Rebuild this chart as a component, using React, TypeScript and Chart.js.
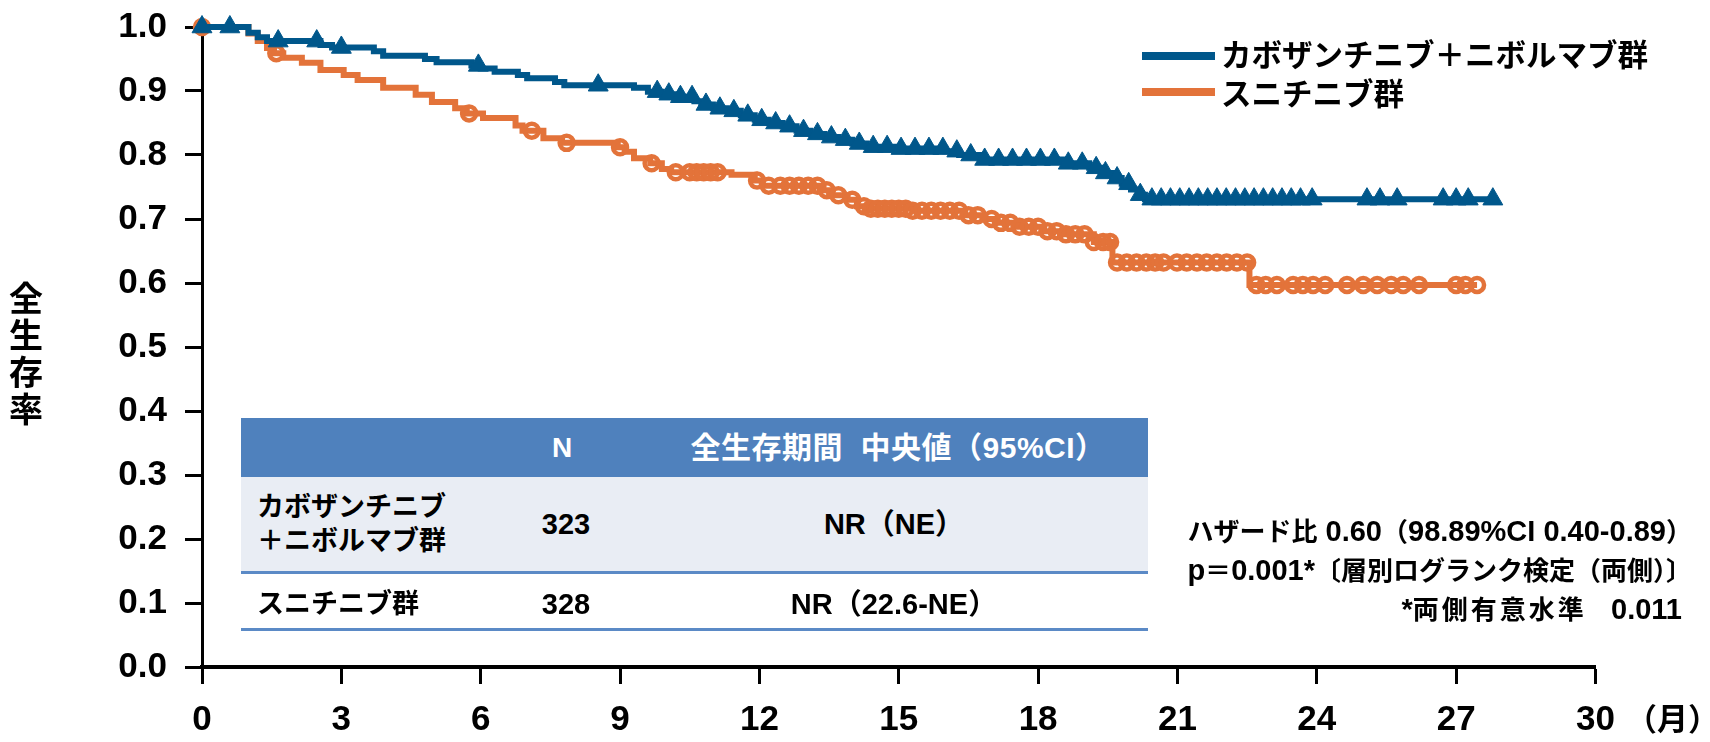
import React, { useEffect, useRef } from "react";
import { Chart, registerables } from "chart.js";

Chart.register(...registerables);

// ---- data ----
const xTickValues = [0, 3, 6, 9, 12, 15, 18, 21, 24, 27, 30];
const yTickValues = [0, 0.1, 0.2, 0.3, 0.4, 0.5, 0.6, 0.7, 0.8, 0.9, 1.0];

const seriesNames = ["カボザンチニブ＋ニボルマブ群", "スニチニブ群"];

// Cabozantinib + nivolumab: step times (months) and survival after each step
const comboTimes = [0, 1.0, 1.2, 1.4, 2.55, 2.8, 3.7, 3.9, 4.8, 5.05, 5.8, 6.0, 6.3, 6.8, 7.0, 7.6, 7.8, 9.3, 9.6, 9.9, 10.3, 10.6, 10.75, 11.0, 11.3, 11.6, 11.9, 12.2, 12.5, 12.8, 13.1, 13.4, 13.7, 14.0, 14.3, 15.0, 16.0, 16.3, 16.8, 18.6, 19.1, 19.35, 19.6, 19.8, 20.0, 20.15, 20.3, 27.8];
const comboSurv = [1.0, 0.991, 0.984, 0.978, 0.972, 0.968, 0.962, 0.955, 0.95, 0.945, 0.94, 0.935, 0.93, 0.925, 0.92, 0.914, 0.909, 0.905, 0.899, 0.895, 0.891, 0.884, 0.879, 0.873, 0.869, 0.862, 0.855, 0.85, 0.845, 0.838, 0.833, 0.828, 0.824, 0.818, 0.813, 0.81, 0.806, 0.8, 0.793, 0.787, 0.78, 0.772, 0.764, 0.755, 0.746, 0.738, 0.731, 0.731];
const comboCensor = [0, 0.6, 1.64, 2.47, 3.0, 5.95, 8.53, 9.8, 10.05, 10.3, 10.55, 10.85, 11.15, 11.45, 11.75, 12.05, 12.35, 12.65, 12.95, 13.25, 13.55, 13.85, 14.15, 14.45, 14.75, 15.05, 15.35, 15.65, 15.95, 16.25, 16.55, 16.85, 17.15, 17.45, 17.75, 18.05, 18.35, 18.65, 18.95, 19.25, 19.45, 19.7, 19.95, 20.2, 20.45, 20.65, 20.85, 21.05, 21.25, 21.45, 21.65, 21.85, 22.05, 22.25, 22.45, 22.65, 22.85, 23.05, 23.25, 23.45, 23.65, 23.9, 25.08, 25.36, 25.73, 26.72, 27.0, 27.26, 27.79];

// Sunitinib
const suniTimes = [0, 1.0, 1.2, 1.4, 1.55, 1.75, 2.15, 2.55, 3.05, 3.35, 3.9, 4.6, 4.95, 5.45, 5.7, 6.05, 6.75, 6.9, 7.35, 7.75, 8.95, 9.1, 9.3, 9.65, 9.9, 10.1, 11.4, 11.9, 12.05, 13.3, 13.5, 13.9, 14.1, 14.3, 15.3, 16.4, 16.8, 17.1, 17.6, 18.1, 18.6, 19.2, 19.6, 22.55, 27.45];
const suniSurv = [1.0, 0.99, 0.978, 0.967, 0.959, 0.952, 0.944, 0.933, 0.925, 0.917, 0.905, 0.894, 0.883, 0.873, 0.865, 0.858, 0.846, 0.838, 0.826, 0.819, 0.812, 0.805, 0.795, 0.787, 0.778, 0.773, 0.769, 0.76, 0.752, 0.745, 0.737, 0.73, 0.72, 0.716, 0.713, 0.706, 0.7, 0.694, 0.688, 0.681, 0.676, 0.664, 0.632, 0.597, 0.597];
const suniCensor = [0, 1.6, 5.75, 7.1, 7.85, 9.0, 9.68, 10.2, 10.5, 10.65, 10.8, 10.95, 11.1, 11.95, 12.2, 12.45, 12.65, 12.85, 13.05, 13.25, 13.45, 13.7, 14.0, 14.25, 14.4, 14.55, 14.7, 14.85, 15.0, 15.15, 15.3, 15.5, 15.7, 15.9, 16.1, 16.3, 16.5, 16.7, 17.0, 17.2, 17.4, 17.6, 17.8, 18.0, 18.2, 18.4, 18.6, 18.8, 19.0, 19.2, 19.4, 19.55, 19.7, 19.91, 20.12, 20.33, 20.52, 20.7, 20.99, 21.2, 21.42, 21.63, 21.85, 22.06, 22.28, 22.5, 22.7, 22.9, 23.14, 23.49, 23.7, 23.92, 24.18, 24.65, 25.0, 25.3, 25.6, 25.86, 26.2, 27.0, 27.2, 27.45];

const tableHeader = ["", "N", "全生存期間  中央値（95%CI）"];
const tableRow1 = ["カボザンチニブ\n＋ニボルマブ群", "323", "NR（NE）"];
const tableRow2 = ["スニチニブ群", "328", "NR（22.6-NE）"];
const statLines = ["ハザード比 0.60（98.89%CI 0.40-0.89）", "p＝0.001*〔層別ログランク検定（両側）〕", "*両側有意水準   0.011"];
const yTitle = "全生存率";
const xUnit = "（月）";

// ---- style ----
const BLUE = "#00578B";
const ORANGE = "#E3733A";
const LATIN = '"Liberation Sans", Arial, sans-serif';
const JP = '"Liberation Sans", "Noto Sans CJK JP", sans-serif';

function stepAt(times: number[], surv: number[], t: number) {
  let v = surv[0];
  for (let i = 0; i < times.length; i++) if (times[i] <= t) v = surv[i];
  return v;
}

// split text into latin / cjk runs so each can get its own size
function Mixed({ text, cjk, latin, cjkSpacing = 0 }: { text: string; cjk: number; latin: number; cjkSpacing?: number }) {
  const parts = text.match(/[\x20-\x7E]+|[^\x20-\x7E]+/g) || [];
  return (
    <>
      {parts.map((p, i) =>
        /^[\x20-\x7E]+$/.test(p) ? (
          <span key={i} style={{ fontSize: latin, fontFamily: LATIN }}>{p}</span>
        ) : (
          <span key={i} style={{ fontSize: cjk, letterSpacing: cjkSpacing }}>{p}</span>
        )
      )}
    </>
  );
}

export default function App() {
  const ref = useRef<HTMLCanvasElement>(null);

  useEffect(() => {
    const ctx = ref.current!;
    const tickFont = { family: LATIN, size: 35, weight: "bold" as const };
    const chart = new Chart(ctx, {
      type: "scatter",
      data: {
        datasets: [
          {
            label: seriesNames[1],
            data: suniTimes.map((t, i) => ({ x: t, y: suniSurv[i] })),
            showLine: true,
            stepped: "before",
            borderColor: ORANGE,
            borderWidth: 6,
            pointRadius: 0,
            clip: false,
            order: 4,
          } as any,
          {
            label: seriesNames[1] + " censor",
            data: suniCensor.map((t) => ({ x: t, y: stepAt(suniTimes, suniSurv, t) })),
            showLine: false,
            pointStyle: "circle",
            pointRadius: 7,
            pointBorderWidth: 4.5,
            pointBorderColor: ORANGE,
            pointBackgroundColor: "rgba(255,255,255,0)",
            clip: false,
            order: 3,
          } as any,
          {
            label: seriesNames[0],
            data: comboTimes.map((t, i) => ({ x: t, y: comboSurv[i] })),
            showLine: true,
            stepped: "before",
            borderColor: BLUE,
            borderWidth: 6,
            pointRadius: 0,
            clip: false,
            order: 2,
          } as any,
          {
            label: seriesNames[0] + " censor",
            data: comboCensor.map((t) => ({ x: t, y: stepAt(comboTimes, comboSurv, t) })),
            showLine: false,
            pointStyle: "triangle",
            pointRadius: 11.5,
            pointBorderWidth: 1,
            pointBorderColor: BLUE,
            pointBackgroundColor: BLUE,
            clip: false,
            order: 1,
          } as any,
        ],
      },
      options: {
        animation: false,
        responsive: false,
        devicePixelRatio: 1,
        layout: { padding: { top: 27, right: 114.5, bottom: 0, left: 0 } },
        plugins: { legend: { display: false }, tooltip: { enabled: false } },
        scales: {
          x: {
            type: "linear",
            min: 0,
            max: 30,
            afterBuildTicks: (s: any) => {
              s.ticks = xTickValues.map((v) => ({ value: v }));
            },
            afterFit: (s: any) => {
              s.height = 75;
            },
            ticks: {
              font: tickFont,
              color: "#000",
              padding: 15,
              maxRotation: 0,
              autoSkip: false,
              callback: (v: any) => String(v),
            },
            grid: {
              display: true,
              drawOnChartArea: false,
              drawTicks: true,
              tickLength: 17,
              tickWidth: 3,
              tickColor: "#000",
            },
            border: { display: true, color: "#000", width: 4 },
          },
          y: {
            type: "linear",
            min: 0,
            max: 1,
            afterBuildTicks: (s: any) => {
              s.ticks = yTickValues.map((v) => ({ value: v }));
            },
            afterFit: (s: any) => {
              s.width = 202;
              s.paddingTop = 0;
              s.paddingBottom = 0;
            },
            ticks: {
              font: tickFont,
              color: "#000",
              padding: 18,
              autoSkip: false,
              callback: (v: any) => Number(v).toFixed(1),
            },
            grid: {
              display: true,
              drawOnChartArea: false,
              drawTicks: true,
              tickLength: 17,
              tickWidth: 3,
              tickColor: "#000",
            },
            border: { display: true, color: "#000", width: 3 },
          },
        },
      } as any,
    });
    return () => chart.destroy();
  }, []);

  const abs = (s: React.CSSProperties): React.CSSProperties => ({ position: "absolute", ...s });
  const jpBold: React.CSSProperties = { fontFamily: JP, fontWeight: 700, color: "#000", whiteSpace: "pre" };

  return (
    <div style={{ position: "absolute", left: 0, top: 0, width: 1710, height: 742, background: "#fff", overflow: "hidden" }}>
      <canvas ref={ref} width={1710} height={742} style={{ position: "absolute", left: 0, top: 0, width: 1710, height: 742 }} />

      {/* y axis title */}
      <div style={abs({ ...jpBold, left: 8, top: 281, width: 36, fontSize: 34, lineHeight: "37px", textAlign: "center", whiteSpace: "normal" })}>
        {yTitle.split("").map((c, i) => (
          <div key={i}>{c}</div>
        ))}
      </div>

      {/* x unit */}
      <div style={abs({ ...jpBold, left: 1626, top: 700, fontSize: 31, lineHeight: "40px" })}>{xUnit}</div>

      {/* legend */}
      <div style={abs({ left: 1142, top: 52, width: 73, height: 8, background: BLUE })} />
      <div style={abs({ ...jpBold, left: 1221, top: 35, fontSize: 30.5, lineHeight: "40px" })}>{seriesNames[0]}</div>
      <div style={abs({ left: 1142, top: 88, width: 73, height: 8, background: ORANGE })} />
      <div style={abs({ ...jpBold, left: 1221, top: 74, fontSize: 30.5, lineHeight: "40px" })}>{seriesNames[1]}</div>

      {/* table */}
      <div style={abs({ left: 241, top: 418, width: 907, height: 59, background: "#4F81BD" })} />
      <div style={abs({ left: 241, top: 477, width: 907, height: 95, background: "#E9EDF4" })} />
      <div style={abs({ left: 241, top: 571, width: 907, height: 3, background: "#5B8AC6" })} />
      <div style={abs({ left: 241, top: 628, width: 907, height: 3, background: "#5B8AC6" })} />
      <div style={abs({ ...jpBold, color: "#fff", left: 462, width: 200, top: 428, fontSize: 28, lineHeight: "40px", textAlign: "center" })}>{tableHeader[1]}</div>
      <div style={abs({ ...jpBold, color: "#fff", left: 648, width: 500, top: 428, fontSize: 30, lineHeight: "40px", textAlign: "center", letterSpacing: "0.5px" })}>{tableHeader[2]}</div>

      <div style={abs({ ...jpBold, left: 257, top: 490, fontSize: 27, lineHeight: "34px" })}>{tableRow1[0]}</div>
      <div style={abs({ ...jpBold, left: 466, width: 200, top: 504, fontSize: 29, lineHeight: "40px", textAlign: "center" })}>{tableRow1[1]}</div>
      <div style={abs({ ...jpBold, left: 644, width: 500, top: 504, fontSize: 29, lineHeight: "40px", textAlign: "center" })}>{tableRow1[2]}</div>

      <div style={abs({ ...jpBold, left: 257, top: 584, fontSize: 27, lineHeight: "40px" })}>{tableRow2[0]}</div>
      <div style={abs({ ...jpBold, left: 466, width: 200, top: 584, fontSize: 29, lineHeight: "40px", textAlign: "center" })}>{tableRow2[1]}</div>
      <div style={abs({ ...jpBold, left: 644, width: 500, top: 584, fontSize: 29, lineHeight: "40px", textAlign: "center" })}>{tableRow2[2]}</div>

      {/* statistics */}
      <div style={abs({ ...jpBold, right: 18, top: 514, lineHeight: "35px", textAlign: "right" })}>
        <div><Mixed text={statLines[0]} cjk={26} latin={29} /></div>
        <div><Mixed text={statLines[1]} cjk={26} latin={29} /></div>
        <div style={{ marginRight: 10 }}><Mixed text={statLines[2]} cjk={26} latin={29} cjkSpacing={3} /></div>
      </div>
    </div>
  );
}
